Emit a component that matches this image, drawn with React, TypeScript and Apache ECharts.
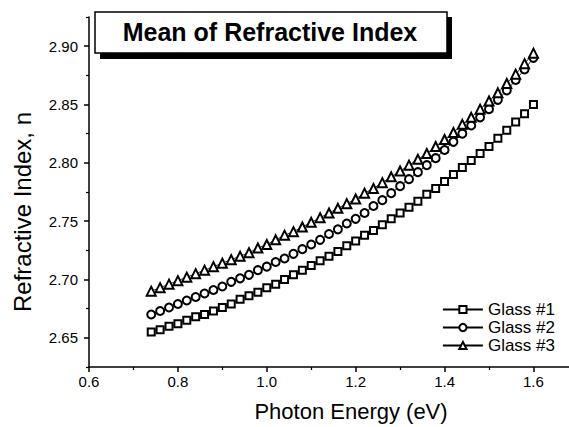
import React, { useEffect, useRef } from "react";
import * as echarts from "echarts";

const energy: number[] = [
  0.74, 0.76, 0.78, 0.8, 0.82, 0.84, 0.86, 0.88, 0.9, 0.92, 0.94, 0.96, 0.98,
  1.0, 1.02, 1.04, 1.06, 1.08, 1.1, 1.12, 1.14, 1.16, 1.18, 1.2, 1.22, 1.24,
  1.26, 1.28, 1.3, 1.32, 1.34, 1.36, 1.38, 1.4, 1.42, 1.44, 1.46, 1.48, 1.5,
  1.52, 1.54, 1.56, 1.58, 1.6,
];

const glass1: number[] = [
  2.655, 2.657, 2.66, 2.662, 2.665, 2.668, 2.67, 2.673, 2.676, 2.679, 2.683,
  2.686, 2.689, 2.693, 2.696, 2.7, 2.704, 2.708, 2.712, 2.716, 2.72, 2.724,
  2.729, 2.733, 2.738, 2.742, 2.747, 2.752, 2.757, 2.762, 2.767, 2.773, 2.778,
  2.784, 2.79, 2.796, 2.802, 2.808, 2.814, 2.821, 2.828, 2.835, 2.842, 2.85,
];

const glass2: number[] = [
  2.67, 2.673, 2.676, 2.679, 2.682, 2.685, 2.688, 2.691, 2.694, 2.698, 2.701,
  2.704, 2.708, 2.711, 2.715, 2.718, 2.722, 2.726, 2.73, 2.734, 2.739, 2.743,
  2.748, 2.752, 2.757, 2.763, 2.768, 2.774, 2.78, 2.786, 2.792, 2.798, 2.804,
  2.811, 2.818, 2.825, 2.832, 2.839, 2.846, 2.854, 2.862, 2.871, 2.88, 2.89,
];

const glass3: number[] = [
  2.69, 2.693, 2.696, 2.699, 2.702, 2.705, 2.708, 2.711, 2.714, 2.717, 2.72,
  2.723, 2.727, 2.73, 2.734, 2.738, 2.741, 2.745, 2.749, 2.753, 2.757, 2.761,
  2.765, 2.769, 2.774, 2.778, 2.783, 2.788, 2.793, 2.798, 2.803, 2.808, 2.814,
  2.82, 2.826, 2.833, 2.839, 2.846, 2.853, 2.86, 2.868, 2.876, 2.885, 2.894,
];

const seriesNames: string[] = ["Glass #1", "Glass #2", "Glass #3"];
const xTicks: number[] = [0.6, 0.8, 1.0, 1.2, 1.4, 1.6];
const xMinorTicks: number[] = [0.7, 0.9, 1.1, 1.3, 1.5];
const yTicks: number[] = [2.65, 2.7, 2.75, 2.8, 2.85, 2.9];
const yMinorTicks: number[] = [2.625, 2.675, 2.725, 2.775, 2.825, 2.875, 2.925];

const titleText = "Mean of Refractive Index";
const xTitle = "Photon Energy (eV)";
const yTitle = "Refractive Index, n";

const FONT = "'Liberation Sans', Arial, sans-serif";

export default function App() {
  const ref = useRef<HTMLDivElement>(null);

  useEffect(() => {
    if (!ref.current) return;
    const chart = echarts.init(ref.current, undefined, { renderer: "svg" });

    const pairs = (ys: number[]) => energy.map((x, i) => [x, ys[i]]);
    const symbols = ["emptyRect", "emptyCircle", "emptyTriangle"];
    const sizes = [7, 8, 9];
    const allData = [glass1, glass2, glass3];

    const X_MIN = 0.6;
    const X_MAX = 1.68;
    const Y_MIN = 2.625;
    const Y_MAX = 2.925;

    const option: any = {
      animation: false,
      backgroundColor: "#fff",
      textStyle: { fontFamily: FONT },
      grid: { left: 89, right: 0, top: 17, bottom: 56 },
      xAxis: [
        {
          type: "value",
          min: X_MIN,
          max: X_MAX,
          position: "bottom",
          name: xTitle,
          nameLocation: "middle",
          nameGap: 33,
          nameTextStyle: {
            fontSize: 22,
            color: "#000",
            fontFamily: FONT,
            padding: [0, 0, 0, 44],
          },
          axisLine: { show: true, lineStyle: { color: "#000", width: 1.5 } },
          axisTick: {
            show: true,
            length: 5,
            customValues: xTicks,
            lineStyle: { color: "#000", width: 1.5 },
          },
          axisLabel: {
            customValues: xTicks,
            formatter: (v: number) => v.toFixed(1),
            fontSize: 15,
            color: "#000",
            margin: 7,
            fontFamily: FONT,
          },
          splitLine: { show: false },
        },
        {
          type: "value",
          min: X_MIN,
          max: X_MAX,
          position: "bottom",
          axisLine: { show: false },
          axisTick: {
            show: true,
            length: 3,
            customValues: xMinorTicks,
            lineStyle: { color: "#000", width: 1.2 },
          },
          axisLabel: { show: false },
          splitLine: { show: false },
        },
      ],
      yAxis: [
        {
          type: "value",
          min: Y_MIN,
          max: Y_MAX,
          position: "left",
          axisLine: { show: true, lineStyle: { color: "#000", width: 1.5 } },
          axisTick: {
            show: true,
            length: 5,
            customValues: yTicks,
            lineStyle: { color: "#000", width: 1.5 },
          },
          axisLabel: {
            customValues: yTicks,
            formatter: (v: number) => v.toFixed(2),
            fontSize: 15,
            color: "#000",
            margin: 11,
            fontFamily: FONT,
          },
          splitLine: { show: false },
        },
        {
          type: "value",
          min: Y_MIN,
          max: Y_MAX,
          position: "left",
          axisLine: { show: false },
          axisTick: {
            show: true,
            length: 3,
            customValues: yMinorTicks,
            lineStyle: { color: "#000", width: 1.2 },
          },
          axisLabel: { show: false },
          splitLine: { show: false },
        },
      ],
      legend: {
        orient: "vertical",
        right: 9,
        top: 296,
        itemWidth: 40,
        itemHeight: 9,
        itemGap: 1,
        data: seriesNames,
        textStyle: { fontSize: 17, color: "#000", fontFamily: FONT },
      },
      series: seriesNames.map((name, i) => ({
        name,
        type: "line",
        xAxisIndex: 0,
        yAxisIndex: 0,
        data: pairs(allData[i]),
        symbol: symbols[i],
        symbolSize: sizes[i],
        showAllSymbol: true,
        color: "#000",
        lineStyle: { color: "#000", width: 0.8 },
        itemStyle: { color: "#000", borderColor: "#000", borderWidth: 1.3 },
      })),
      graphic: [
        {
          type: "text",
          x: 22,
          y: 212,
          rotation: Math.PI / 2,
          style: {
            text: yTitle,
            fontSize: 24,
            fontFamily: FONT,
            fill: "#000",
            align: "center",
            verticalAlign: "middle",
          },
        },
        {
          type: "rect",
          shape: { x: 100, y: 17, width: 352, height: 42 },
          style: { fill: "#000" },
          z: 100,
        },
        {
          type: "rect",
          shape: { x: 95, y: 12, width: 352, height: 41 },
          style: { fill: "#fff", stroke: "#000", lineWidth: 1.5 },
          z: 101,
        },
        {
          type: "text",
          x: 270,
          y: 32,
          style: {
            text: titleText,
            fontSize: 25,
            fontWeight: "bold",
            fontFamily: FONT,
            fill: "#000",
            align: "center",
            verticalAlign: "middle",
          },
          z: 102,
        },
      ],
    };

    chart.setOption(option);
    return () => chart.dispose();
  }, []);

  return (
    <div
      ref={ref}
      style={{ position: "absolute", left: 0, top: 0, width: 569, height: 427 }}
    />
  );
}
